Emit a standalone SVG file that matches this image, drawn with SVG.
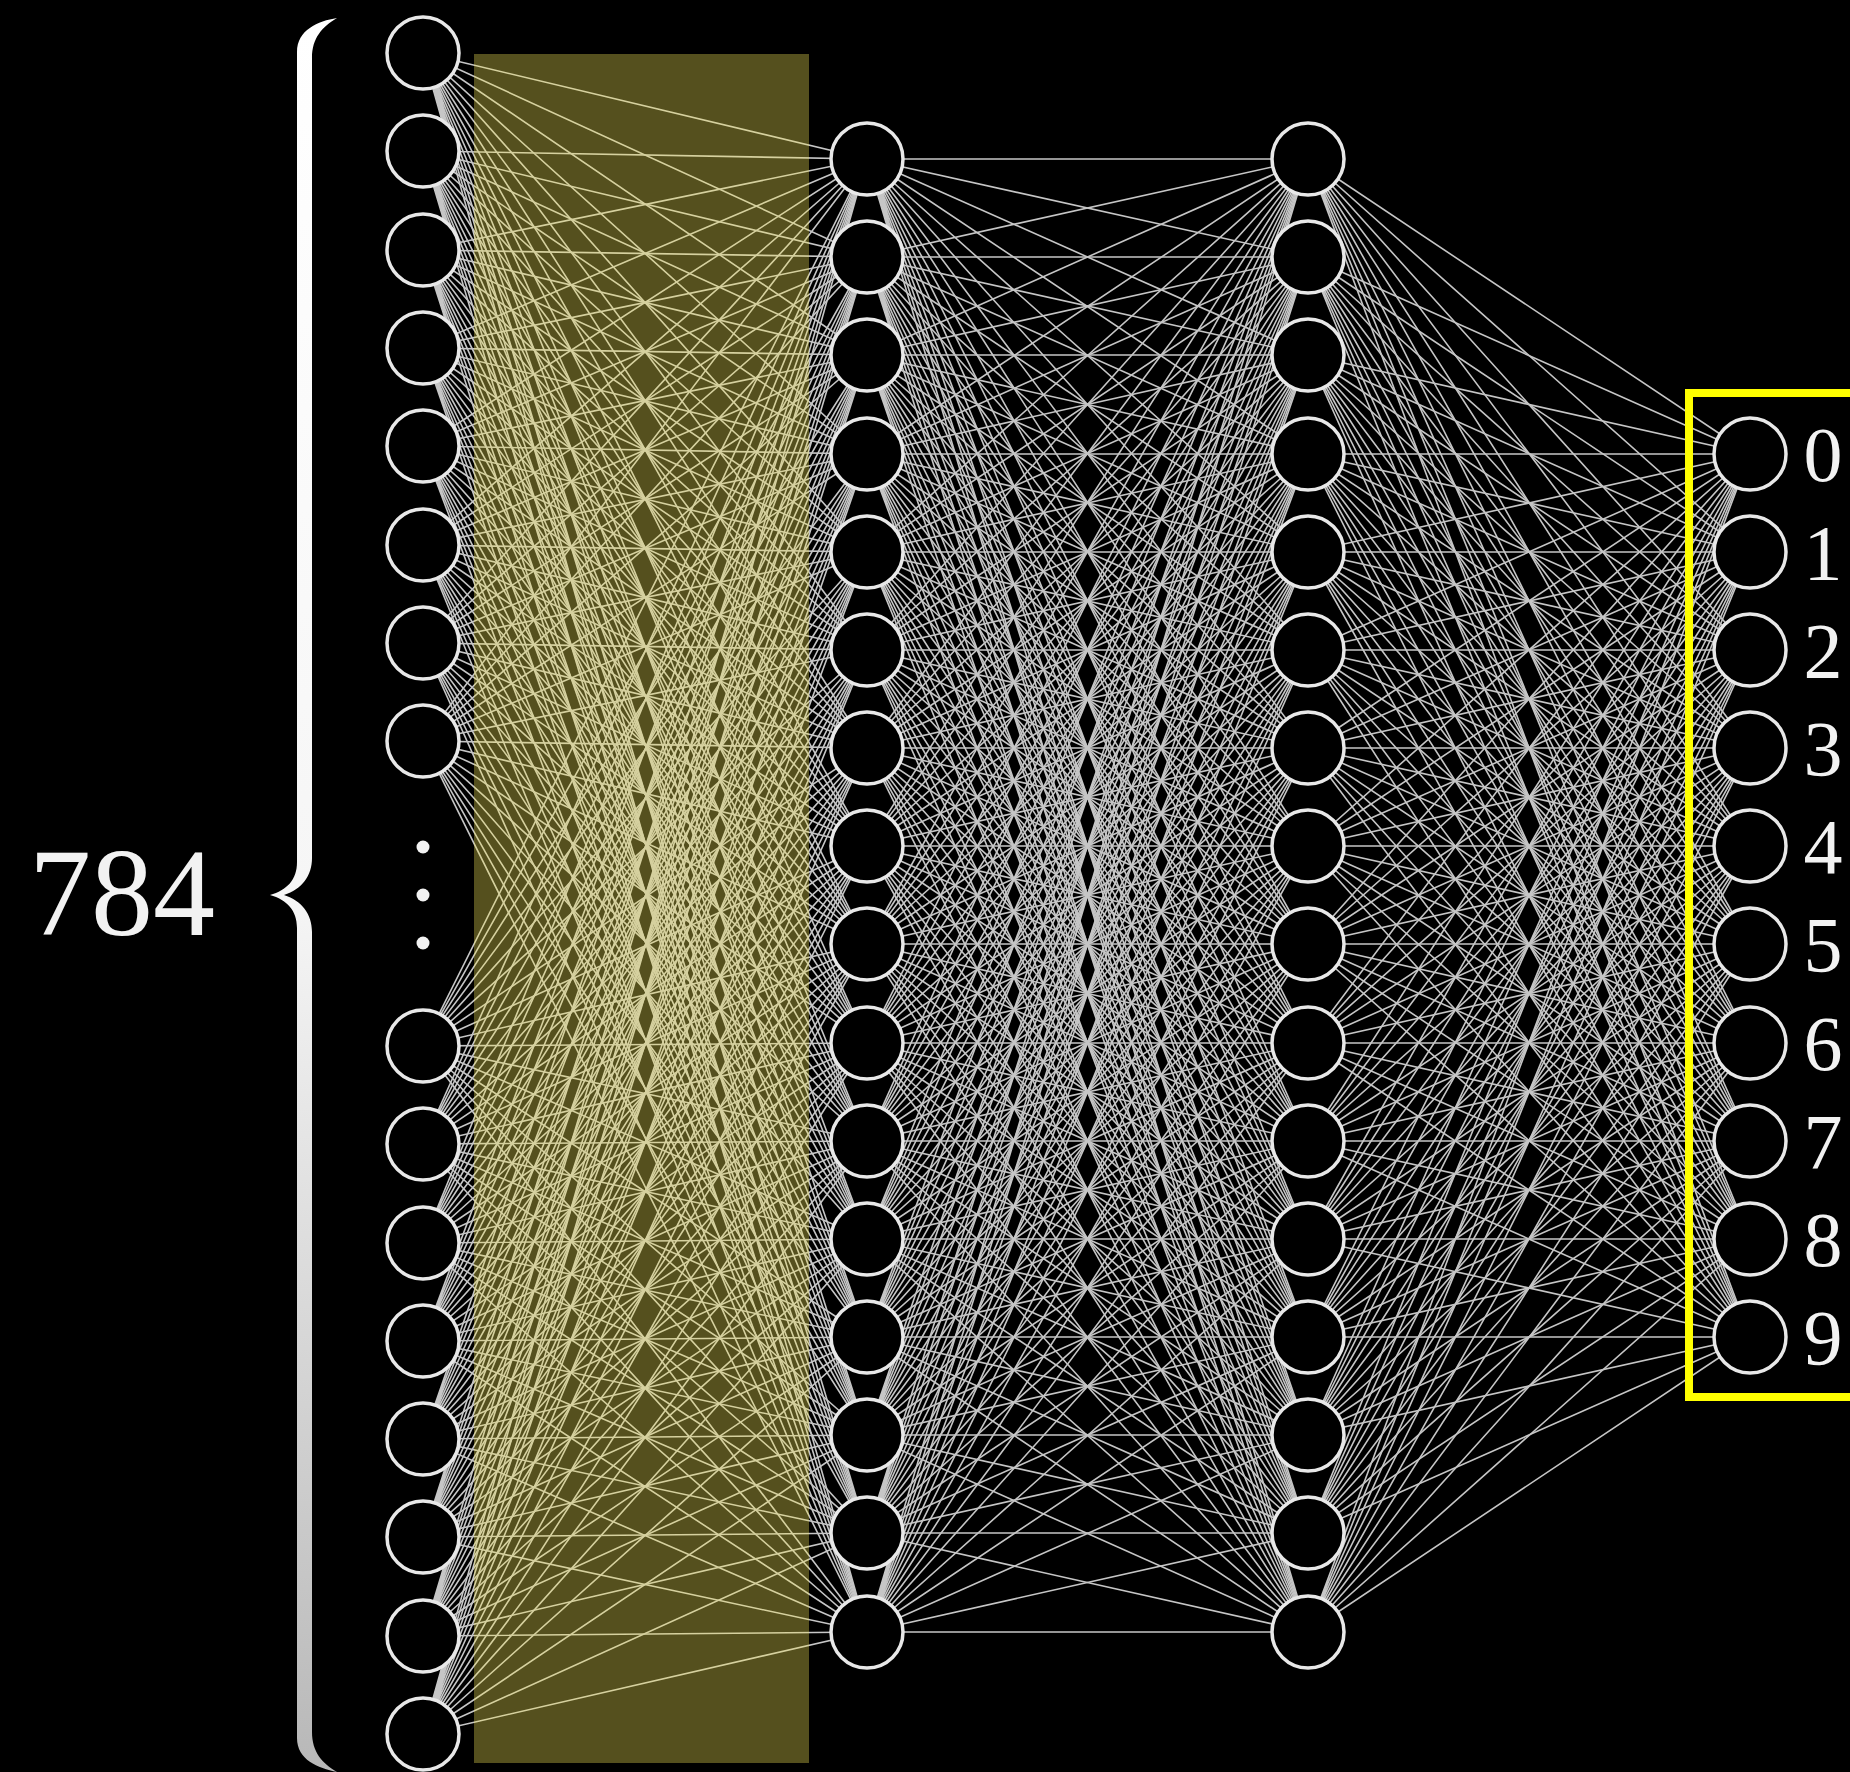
<svg xmlns="http://www.w3.org/2000/svg" width="1850" height="1772" viewBox="0 0 1850 1772">
  <defs>
    <linearGradient id="braceFill" x1="0" y1="0" x2="0" y2="1">
      <stop offset="0" stop-color="#ffffff"/>
      <stop offset="0.5" stop-color="#f6f6f6"/>
      <stop offset="1" stop-color="#b8b8b8"/>
    </linearGradient>
  </defs>
  <style>
    .edge { fill: none; stroke: #c6c6c6; stroke-width: 1.6; }
    .neuron { fill: #000000; stroke: #e8e8e8; stroke-width: 3.5; }
    text { font-family: 'Liberation Serif', 'DejaVu Serif', 'Noto Serif', serif; fill: #f2f2f2; }
    .digit { font-size: 78px; text-anchor: middle; }
  </style>

  <rect x="0" y="0" width="1850" height="1772" fill="#000000"/>

  <!-- weights: every neuron is linked to every neuron of the next layer -->
  <g id="connectors" class="edge">
    <!-- input layer (x=423) to hidden layer 1 (x=867) -->
    <path d="M423 53L867 159M423 53L867 257M423 53L867 355M423 53L867 454M423 53L867 552M423 53L867 650M423 53L867 748M423 53L867 846M423 53L867 944M423 53L867 1043M423 53L867 1141M423 53L867 1239M423 53L867 1337M423 53L867 1435M423 53L867 1533M423 53L867 1632"/>
    <path d="M423 151L867 159M423 151L867 257M423 151L867 355M423 151L867 454M423 151L867 552M423 151L867 650M423 151L867 748M423 151L867 846M423 151L867 944M423 151L867 1043M423 151L867 1141M423 151L867 1239M423 151L867 1337M423 151L867 1435M423 151L867 1533M423 151L867 1632"/>
    <path d="M423 250L867 159M423 250L867 257M423 250L867 355M423 250L867 454M423 250L867 552M423 250L867 650M423 250L867 748M423 250L867 846M423 250L867 944M423 250L867 1043M423 250L867 1141M423 250L867 1239M423 250L867 1337M423 250L867 1435M423 250L867 1533M423 250L867 1632"/>
    <path d="M423 348L867 159M423 348L867 257M423 348L867 355M423 348L867 454M423 348L867 552M423 348L867 650M423 348L867 748M423 348L867 846M423 348L867 944M423 348L867 1043M423 348L867 1141M423 348L867 1239M423 348L867 1337M423 348L867 1435M423 348L867 1533M423 348L867 1632"/>
    <path d="M423 446L867 159M423 446L867 257M423 446L867 355M423 446L867 454M423 446L867 552M423 446L867 650M423 446L867 748M423 446L867 846M423 446L867 944M423 446L867 1043M423 446L867 1141M423 446L867 1239M423 446L867 1337M423 446L867 1435M423 446L867 1533M423 446L867 1632"/>
    <path d="M423 545L867 159M423 545L867 257M423 545L867 355M423 545L867 454M423 545L867 552M423 545L867 650M423 545L867 748M423 545L867 846M423 545L867 944M423 545L867 1043M423 545L867 1141M423 545L867 1239M423 545L867 1337M423 545L867 1435M423 545L867 1533M423 545L867 1632"/>
    <path d="M423 643L867 159M423 643L867 257M423 643L867 355M423 643L867 454M423 643L867 552M423 643L867 650M423 643L867 748M423 643L867 846M423 643L867 944M423 643L867 1043M423 643L867 1141M423 643L867 1239M423 643L867 1337M423 643L867 1435M423 643L867 1533M423 643L867 1632"/>
    <path d="M423 741L867 159M423 741L867 257M423 741L867 355M423 741L867 454M423 741L867 552M423 741L867 650M423 741L867 748M423 741L867 846M423 741L867 944M423 741L867 1043M423 741L867 1141M423 741L867 1239M423 741L867 1337M423 741L867 1435M423 741L867 1533M423 741L867 1632"/>
    <path d="M423 1046L867 159M423 1046L867 257M423 1046L867 355M423 1046L867 454M423 1046L867 552M423 1046L867 650M423 1046L867 748M423 1046L867 846M423 1046L867 944M423 1046L867 1043M423 1046L867 1141M423 1046L867 1239M423 1046L867 1337M423 1046L867 1435M423 1046L867 1533M423 1046L867 1632"/>
    <path d="M423 1144L867 159M423 1144L867 257M423 1144L867 355M423 1144L867 454M423 1144L867 552M423 1144L867 650M423 1144L867 748M423 1144L867 846M423 1144L867 944M423 1144L867 1043M423 1144L867 1141M423 1144L867 1239M423 1144L867 1337M423 1144L867 1435M423 1144L867 1533M423 1144L867 1632"/>
    <path d="M423 1243L867 159M423 1243L867 257M423 1243L867 355M423 1243L867 454M423 1243L867 552M423 1243L867 650M423 1243L867 748M423 1243L867 846M423 1243L867 944M423 1243L867 1043M423 1243L867 1141M423 1243L867 1239M423 1243L867 1337M423 1243L867 1435M423 1243L867 1533M423 1243L867 1632"/>
    <path d="M423 1341L867 159M423 1341L867 257M423 1341L867 355M423 1341L867 454M423 1341L867 552M423 1341L867 650M423 1341L867 748M423 1341L867 846M423 1341L867 944M423 1341L867 1043M423 1341L867 1141M423 1341L867 1239M423 1341L867 1337M423 1341L867 1435M423 1341L867 1533M423 1341L867 1632"/>
    <path d="M423 1439L867 159M423 1439L867 257M423 1439L867 355M423 1439L867 454M423 1439L867 552M423 1439L867 650M423 1439L867 748M423 1439L867 846M423 1439L867 944M423 1439L867 1043M423 1439L867 1141M423 1439L867 1239M423 1439L867 1337M423 1439L867 1435M423 1439L867 1533M423 1439L867 1632"/>
    <path d="M423 1537L867 159M423 1537L867 257M423 1537L867 355M423 1537L867 454M423 1537L867 552M423 1537L867 650M423 1537L867 748M423 1537L867 846M423 1537L867 944M423 1537L867 1043M423 1537L867 1141M423 1537L867 1239M423 1537L867 1337M423 1537L867 1435M423 1537L867 1533M423 1537L867 1632"/>
    <path d="M423 1636L867 159M423 1636L867 257M423 1636L867 355M423 1636L867 454M423 1636L867 552M423 1636L867 650M423 1636L867 748M423 1636L867 846M423 1636L867 944M423 1636L867 1043M423 1636L867 1141M423 1636L867 1239M423 1636L867 1337M423 1636L867 1435M423 1636L867 1533M423 1636L867 1632"/>
    <path d="M423 1734L867 159M423 1734L867 257M423 1734L867 355M423 1734L867 454M423 1734L867 552M423 1734L867 650M423 1734L867 748M423 1734L867 846M423 1734L867 944M423 1734L867 1043M423 1734L867 1141M423 1734L867 1239M423 1734L867 1337M423 1734L867 1435M423 1734L867 1533M423 1734L867 1632"/>

    <!-- hidden layer 1 (x=867) to hidden layer 2 (x=1308) -->
    <path d="M867 159L1308 159M867 159L1308 257M867 159L1308 355M867 159L1308 454M867 159L1308 552M867 159L1308 650M867 159L1308 748M867 159L1308 846M867 159L1308 944M867 159L1308 1043M867 159L1308 1141M867 159L1308 1239M867 159L1308 1337M867 159L1308 1435M867 159L1308 1533M867 159L1308 1632"/>
    <path d="M867 257L1308 159M867 257L1308 257M867 257L1308 355M867 257L1308 454M867 257L1308 552M867 257L1308 650M867 257L1308 748M867 257L1308 846M867 257L1308 944M867 257L1308 1043M867 257L1308 1141M867 257L1308 1239M867 257L1308 1337M867 257L1308 1435M867 257L1308 1533M867 257L1308 1632"/>
    <path d="M867 355L1308 159M867 355L1308 257M867 355L1308 355M867 355L1308 454M867 355L1308 552M867 355L1308 650M867 355L1308 748M867 355L1308 846M867 355L1308 944M867 355L1308 1043M867 355L1308 1141M867 355L1308 1239M867 355L1308 1337M867 355L1308 1435M867 355L1308 1533M867 355L1308 1632"/>
    <path d="M867 454L1308 159M867 454L1308 257M867 454L1308 355M867 454L1308 454M867 454L1308 552M867 454L1308 650M867 454L1308 748M867 454L1308 846M867 454L1308 944M867 454L1308 1043M867 454L1308 1141M867 454L1308 1239M867 454L1308 1337M867 454L1308 1435M867 454L1308 1533M867 454L1308 1632"/>
    <path d="M867 552L1308 159M867 552L1308 257M867 552L1308 355M867 552L1308 454M867 552L1308 552M867 552L1308 650M867 552L1308 748M867 552L1308 846M867 552L1308 944M867 552L1308 1043M867 552L1308 1141M867 552L1308 1239M867 552L1308 1337M867 552L1308 1435M867 552L1308 1533M867 552L1308 1632"/>
    <path d="M867 650L1308 159M867 650L1308 257M867 650L1308 355M867 650L1308 454M867 650L1308 552M867 650L1308 650M867 650L1308 748M867 650L1308 846M867 650L1308 944M867 650L1308 1043M867 650L1308 1141M867 650L1308 1239M867 650L1308 1337M867 650L1308 1435M867 650L1308 1533M867 650L1308 1632"/>
    <path d="M867 748L1308 159M867 748L1308 257M867 748L1308 355M867 748L1308 454M867 748L1308 552M867 748L1308 650M867 748L1308 748M867 748L1308 846M867 748L1308 944M867 748L1308 1043M867 748L1308 1141M867 748L1308 1239M867 748L1308 1337M867 748L1308 1435M867 748L1308 1533M867 748L1308 1632"/>
    <path d="M867 846L1308 159M867 846L1308 257M867 846L1308 355M867 846L1308 454M867 846L1308 552M867 846L1308 650M867 846L1308 748M867 846L1308 846M867 846L1308 944M867 846L1308 1043M867 846L1308 1141M867 846L1308 1239M867 846L1308 1337M867 846L1308 1435M867 846L1308 1533M867 846L1308 1632"/>
    <path d="M867 944L1308 159M867 944L1308 257M867 944L1308 355M867 944L1308 454M867 944L1308 552M867 944L1308 650M867 944L1308 748M867 944L1308 846M867 944L1308 944M867 944L1308 1043M867 944L1308 1141M867 944L1308 1239M867 944L1308 1337M867 944L1308 1435M867 944L1308 1533M867 944L1308 1632"/>
    <path d="M867 1043L1308 159M867 1043L1308 257M867 1043L1308 355M867 1043L1308 454M867 1043L1308 552M867 1043L1308 650M867 1043L1308 748M867 1043L1308 846M867 1043L1308 944M867 1043L1308 1043M867 1043L1308 1141M867 1043L1308 1239M867 1043L1308 1337M867 1043L1308 1435M867 1043L1308 1533M867 1043L1308 1632"/>
    <path d="M867 1141L1308 159M867 1141L1308 257M867 1141L1308 355M867 1141L1308 454M867 1141L1308 552M867 1141L1308 650M867 1141L1308 748M867 1141L1308 846M867 1141L1308 944M867 1141L1308 1043M867 1141L1308 1141M867 1141L1308 1239M867 1141L1308 1337M867 1141L1308 1435M867 1141L1308 1533M867 1141L1308 1632"/>
    <path d="M867 1239L1308 159M867 1239L1308 257M867 1239L1308 355M867 1239L1308 454M867 1239L1308 552M867 1239L1308 650M867 1239L1308 748M867 1239L1308 846M867 1239L1308 944M867 1239L1308 1043M867 1239L1308 1141M867 1239L1308 1239M867 1239L1308 1337M867 1239L1308 1435M867 1239L1308 1533M867 1239L1308 1632"/>
    <path d="M867 1337L1308 159M867 1337L1308 257M867 1337L1308 355M867 1337L1308 454M867 1337L1308 552M867 1337L1308 650M867 1337L1308 748M867 1337L1308 846M867 1337L1308 944M867 1337L1308 1043M867 1337L1308 1141M867 1337L1308 1239M867 1337L1308 1337M867 1337L1308 1435M867 1337L1308 1533M867 1337L1308 1632"/>
    <path d="M867 1435L1308 159M867 1435L1308 257M867 1435L1308 355M867 1435L1308 454M867 1435L1308 552M867 1435L1308 650M867 1435L1308 748M867 1435L1308 846M867 1435L1308 944M867 1435L1308 1043M867 1435L1308 1141M867 1435L1308 1239M867 1435L1308 1337M867 1435L1308 1435M867 1435L1308 1533M867 1435L1308 1632"/>
    <path d="M867 1533L1308 159M867 1533L1308 257M867 1533L1308 355M867 1533L1308 454M867 1533L1308 552M867 1533L1308 650M867 1533L1308 748M867 1533L1308 846M867 1533L1308 944M867 1533L1308 1043M867 1533L1308 1141M867 1533L1308 1239M867 1533L1308 1337M867 1533L1308 1435M867 1533L1308 1533M867 1533L1308 1632"/>
    <path d="M867 1632L1308 159M867 1632L1308 257M867 1632L1308 355M867 1632L1308 454M867 1632L1308 552M867 1632L1308 650M867 1632L1308 748M867 1632L1308 846M867 1632L1308 944M867 1632L1308 1043M867 1632L1308 1141M867 1632L1308 1239M867 1632L1308 1337M867 1632L1308 1435M867 1632L1308 1533M867 1632L1308 1632"/>

    <!-- hidden layer 2 (x=1308) to output layer (x=1750) -->
    <path d="M1308 159L1750 454M1308 159L1750 552M1308 159L1750 650M1308 159L1750 748M1308 159L1750 846M1308 159L1750 944M1308 159L1750 1043M1308 159L1750 1141M1308 159L1750 1239M1308 159L1750 1337"/>
    <path d="M1308 257L1750 454M1308 257L1750 552M1308 257L1750 650M1308 257L1750 748M1308 257L1750 846M1308 257L1750 944M1308 257L1750 1043M1308 257L1750 1141M1308 257L1750 1239M1308 257L1750 1337"/>
    <path d="M1308 355L1750 454M1308 355L1750 552M1308 355L1750 650M1308 355L1750 748M1308 355L1750 846M1308 355L1750 944M1308 355L1750 1043M1308 355L1750 1141M1308 355L1750 1239M1308 355L1750 1337"/>
    <path d="M1308 454L1750 454M1308 454L1750 552M1308 454L1750 650M1308 454L1750 748M1308 454L1750 846M1308 454L1750 944M1308 454L1750 1043M1308 454L1750 1141M1308 454L1750 1239M1308 454L1750 1337"/>
    <path d="M1308 552L1750 454M1308 552L1750 552M1308 552L1750 650M1308 552L1750 748M1308 552L1750 846M1308 552L1750 944M1308 552L1750 1043M1308 552L1750 1141M1308 552L1750 1239M1308 552L1750 1337"/>
    <path d="M1308 650L1750 454M1308 650L1750 552M1308 650L1750 650M1308 650L1750 748M1308 650L1750 846M1308 650L1750 944M1308 650L1750 1043M1308 650L1750 1141M1308 650L1750 1239M1308 650L1750 1337"/>
    <path d="M1308 748L1750 454M1308 748L1750 552M1308 748L1750 650M1308 748L1750 748M1308 748L1750 846M1308 748L1750 944M1308 748L1750 1043M1308 748L1750 1141M1308 748L1750 1239M1308 748L1750 1337"/>
    <path d="M1308 846L1750 454M1308 846L1750 552M1308 846L1750 650M1308 846L1750 748M1308 846L1750 846M1308 846L1750 944M1308 846L1750 1043M1308 846L1750 1141M1308 846L1750 1239M1308 846L1750 1337"/>
    <path d="M1308 944L1750 454M1308 944L1750 552M1308 944L1750 650M1308 944L1750 748M1308 944L1750 846M1308 944L1750 944M1308 944L1750 1043M1308 944L1750 1141M1308 944L1750 1239M1308 944L1750 1337"/>
    <path d="M1308 1043L1750 454M1308 1043L1750 552M1308 1043L1750 650M1308 1043L1750 748M1308 1043L1750 846M1308 1043L1750 944M1308 1043L1750 1043M1308 1043L1750 1141M1308 1043L1750 1239M1308 1043L1750 1337"/>
    <path d="M1308 1141L1750 454M1308 1141L1750 552M1308 1141L1750 650M1308 1141L1750 748M1308 1141L1750 846M1308 1141L1750 944M1308 1141L1750 1043M1308 1141L1750 1141M1308 1141L1750 1239M1308 1141L1750 1337"/>
    <path d="M1308 1239L1750 454M1308 1239L1750 552M1308 1239L1750 650M1308 1239L1750 748M1308 1239L1750 846M1308 1239L1750 944M1308 1239L1750 1043M1308 1239L1750 1141M1308 1239L1750 1239M1308 1239L1750 1337"/>
    <path d="M1308 1337L1750 454M1308 1337L1750 552M1308 1337L1750 650M1308 1337L1750 748M1308 1337L1750 846M1308 1337L1750 944M1308 1337L1750 1043M1308 1337L1750 1141M1308 1337L1750 1239M1308 1337L1750 1337"/>
    <path d="M1308 1435L1750 454M1308 1435L1750 552M1308 1435L1750 650M1308 1435L1750 748M1308 1435L1750 846M1308 1435L1750 944M1308 1435L1750 1043M1308 1435L1750 1141M1308 1435L1750 1239M1308 1435L1750 1337"/>
    <path d="M1308 1533L1750 454M1308 1533L1750 552M1308 1533L1750 650M1308 1533L1750 748M1308 1533L1750 846M1308 1533L1750 944M1308 1533L1750 1043M1308 1533L1750 1141M1308 1533L1750 1239M1308 1533L1750 1337"/>
    <path d="M1308 1632L1750 454M1308 1632L1750 552M1308 1632L1750 650M1308 1632L1750 748M1308 1632L1750 846M1308 1632L1750 944M1308 1632L1750 1043M1308 1632L1750 1141M1308 1632L1750 1239M1308 1632L1750 1337"/>
  </g>

  <!-- highlight over the first weight matrix -->
  <rect id="highlight" x="474" y="54" width="335" height="1709" fill="#F3E556" fill-opacity="0.35"/>

  <!-- brace and count for the input layer -->
  <g id="input-brace">
    <path fill="url(#braceFill)" d="M337 18C318 21 297 30 297 52L297 862C297 880 287 890 270 895C287 900 297 910 297 928L297 1738C297 1760 318 1768 337 1772C322 1763 312 1752 312 1732L312 932C312 914 302 901 284 895C302 889 312 876 312 858L312 58C312 38 322 27 337 18Z"/>
    <text x="122" y="935" font-size="124" text-anchor="middle" style="font-family: 'Liberation Serif', serif">784</text>
  </g>

  <!-- input layer -->
  <g id="input-layer" class="neuron">
    <circle id="in-1" cx="423" cy="53" r="36"/>
    <circle id="in-2" cx="423" cy="151" r="36"/>
    <circle id="in-3" cx="423" cy="250" r="36"/>
    <circle id="in-4" cx="423" cy="348" r="36"/>
    <circle id="in-5" cx="423" cy="446" r="36"/>
    <circle id="in-6" cx="423" cy="545" r="36"/>
    <circle id="in-7" cx="423" cy="643" r="36"/>
    <circle id="in-8" cx="423" cy="741" r="36"/>
    <circle id="in-777" cx="423" cy="1046" r="36"/>
    <circle id="in-778" cx="423" cy="1144" r="36"/>
    <circle id="in-779" cx="423" cy="1243" r="36"/>
    <circle id="in-780" cx="423" cy="1341" r="36"/>
    <circle id="in-781" cx="423" cy="1439" r="36"/>
    <circle id="in-782" cx="423" cy="1537" r="36"/>
    <circle id="in-783" cx="423" cy="1636" r="36"/>
    <circle id="in-784" cx="423" cy="1734" r="36"/>
  </g>
  <g id="input-ellipsis" fill="#f2f2f2">
    <circle cx="423" cy="847" r="6.5"/>
    <circle cx="423" cy="895" r="6.5"/>
    <circle cx="423" cy="943" r="6.5"/>
  </g>

  <!-- hidden layer 1 -->
  <g id="hidden-layer-1" class="neuron">
    <circle id="h1-1" cx="867" cy="159" r="36"/>
    <circle id="h1-2" cx="867" cy="257" r="36"/>
    <circle id="h1-3" cx="867" cy="355" r="36"/>
    <circle id="h1-4" cx="867" cy="454" r="36"/>
    <circle id="h1-5" cx="867" cy="552" r="36"/>
    <circle id="h1-6" cx="867" cy="650" r="36"/>
    <circle id="h1-7" cx="867" cy="748" r="36"/>
    <circle id="h1-8" cx="867" cy="846" r="36"/>
    <circle id="h1-9" cx="867" cy="944" r="36"/>
    <circle id="h1-10" cx="867" cy="1043" r="36"/>
    <circle id="h1-11" cx="867" cy="1141" r="36"/>
    <circle id="h1-12" cx="867" cy="1239" r="36"/>
    <circle id="h1-13" cx="867" cy="1337" r="36"/>
    <circle id="h1-14" cx="867" cy="1435" r="36"/>
    <circle id="h1-15" cx="867" cy="1533" r="36"/>
    <circle id="h1-16" cx="867" cy="1632" r="36"/>
  </g>

  <!-- hidden layer 2 -->
  <g id="hidden-layer-2" class="neuron">
    <circle id="h2-1" cx="1308" cy="159" r="36"/>
    <circle id="h2-2" cx="1308" cy="257" r="36"/>
    <circle id="h2-3" cx="1308" cy="355" r="36"/>
    <circle id="h2-4" cx="1308" cy="454" r="36"/>
    <circle id="h2-5" cx="1308" cy="552" r="36"/>
    <circle id="h2-6" cx="1308" cy="650" r="36"/>
    <circle id="h2-7" cx="1308" cy="748" r="36"/>
    <circle id="h2-8" cx="1308" cy="846" r="36"/>
    <circle id="h2-9" cx="1308" cy="944" r="36"/>
    <circle id="h2-10" cx="1308" cy="1043" r="36"/>
    <circle id="h2-11" cx="1308" cy="1141" r="36"/>
    <circle id="h2-12" cx="1308" cy="1239" r="36"/>
    <circle id="h2-13" cx="1308" cy="1337" r="36"/>
    <circle id="h2-14" cx="1308" cy="1435" r="36"/>
    <circle id="h2-15" cx="1308" cy="1533" r="36"/>
    <circle id="h2-16" cx="1308" cy="1632" r="36"/>
  </g>

  <!-- output layer with its frame and digit labels -->
  <g id="output-layer">
    <rect x="1689" y="393" width="200" height="1004" fill="none" stroke="#FFFF00" stroke-width="8"/>
    <g class="neuron">
      <circle id="out-0" cx="1750" cy="454" r="36"/>
      <circle id="out-1" cx="1750" cy="552" r="36"/>
      <circle id="out-2" cx="1750" cy="650" r="36"/>
      <circle id="out-3" cx="1750" cy="748" r="36"/>
      <circle id="out-4" cx="1750" cy="846" r="36"/>
      <circle id="out-5" cx="1750" cy="944" r="36"/>
      <circle id="out-6" cx="1750" cy="1043" r="36"/>
      <circle id="out-7" cx="1750" cy="1141" r="36"/>
      <circle id="out-8" cx="1750" cy="1239" r="36"/>
      <circle id="out-9" cx="1750" cy="1337" r="36"/>
    </g>
    <g class="digit">
      <text x="1823" y="481">0</text>
      <text x="1823" y="579">1</text>
      <text x="1823" y="677">2</text>
      <text x="1823" y="775">3</text>
      <text x="1823" y="873">4</text>
      <text x="1823" y="971">5</text>
      <text x="1823" y="1070">6</text>
      <text x="1823" y="1168">7</text>
      <text x="1823" y="1266">8</text>
      <text x="1823" y="1364">9</text>
    </g>
  </g>
</svg>
